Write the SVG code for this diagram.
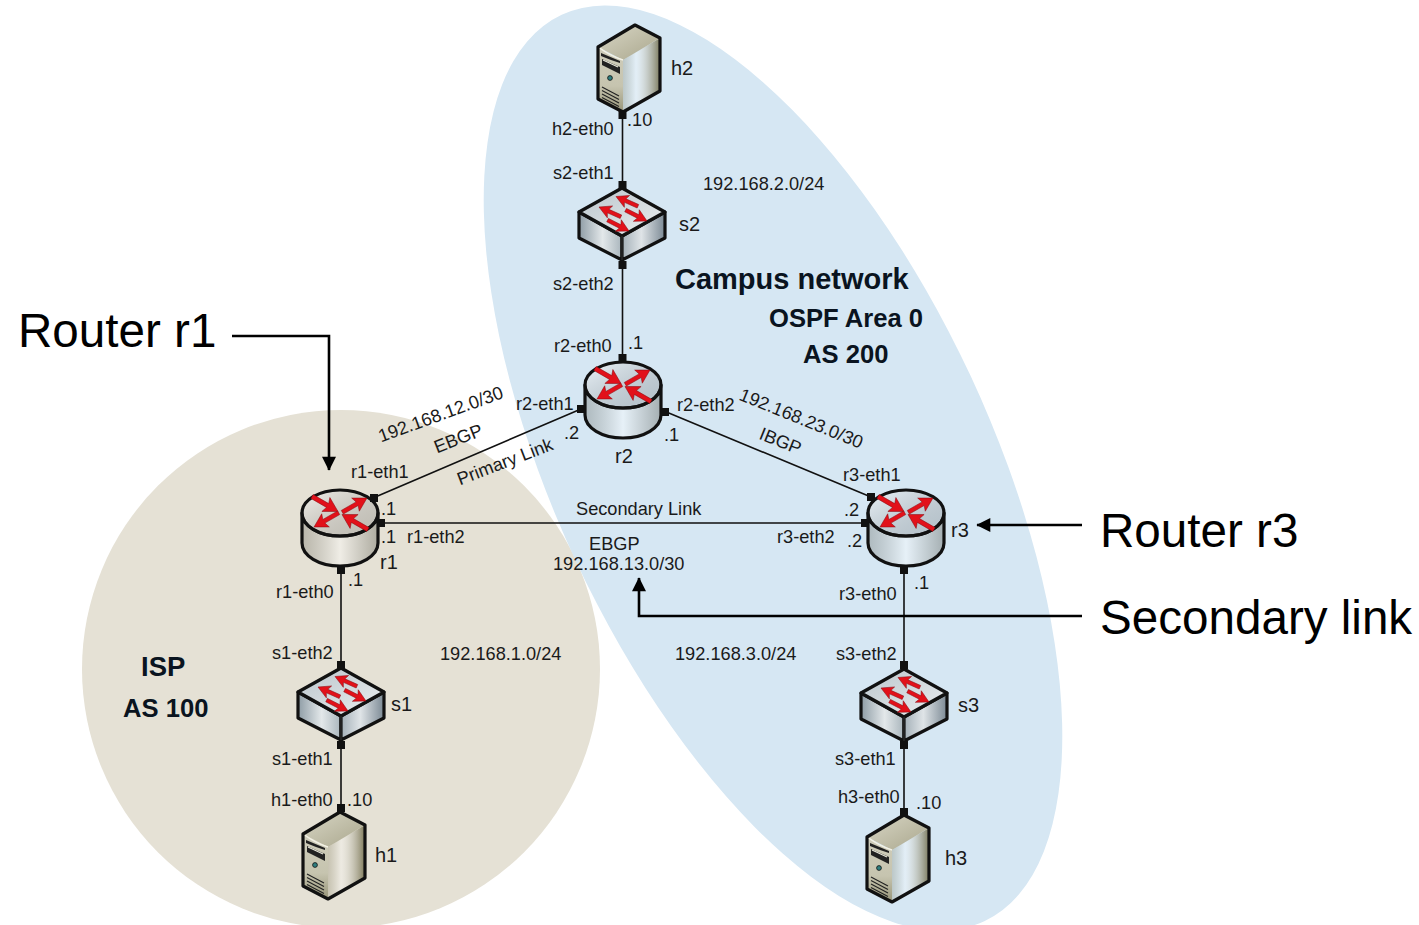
<svg xmlns="http://www.w3.org/2000/svg" width="1419" height="925" viewBox="0 0 1419 925">
<style>
text{font-family:"Liberation Sans",Arial,sans-serif;fill:#1a1a1a}
.l{font-size:18.2px}
.n{font-size:20px}
.b{font-size:25.6px;font-weight:bold;fill:#0a1420}
.c{font-size:47.6px;fill:#000}
.link{stroke:#111;stroke-width:1.6;fill:none}
.call{stroke:#000;stroke-width:2.6;fill:none}
.port{fill:#111}
.ol{stroke:#111;stroke-width:3.2;stroke-linejoin:round}
.red{fill:#e2111a;stroke:#8a0a12;stroke-width:.5}
</style>
<defs>
<linearGradient id="cyl" x1="0" x2="1" y1="0" y2="0"><stop offset="0" stop-color="#5a5a50" stop-opacity=".32"/><stop offset=".5" stop-color="#fff" stop-opacity=".4"/><stop offset="1" stop-color="#5a5a50" stop-opacity=".4"/></linearGradient>
<linearGradient id="top" x1="0" x2="1" y1="0" y2="1"><stop offset="0" stop-color="#fff" stop-opacity=".55"/><stop offset="1" stop-color="#555" stop-opacity=".25"/></linearGradient>
<linearGradient id="swT" x1="0" x2="1" y1="0" y2="1"><stop offset="0" stop-color="#b9c4cb"/><stop offset="1" stop-color="#eceff0"/></linearGradient>
<linearGradient id="swL" x1="0" x2="1" y1="0" y2="0"><stop offset="0" stop-color="#8e9ca5"/><stop offset=".55" stop-color="#e3e8ea"/><stop offset="1" stop-color="#a9b5bc"/></linearGradient>
<linearGradient id="swR" x1="0" x2="1" y1="0" y2="0"><stop offset="0" stop-color="#a4b0b8"/><stop offset=".45" stop-color="#dfe4e7"/><stop offset="1" stop-color="#7b8994"/></linearGradient>
<linearGradient id="svR" x1="0" x2="1" y1="0" y2="0"><stop offset="0" stop-color="#6e6a48" stop-opacity=".25"/><stop offset=".35" stop-color="#fff" stop-opacity=".3"/><stop offset="1" stop-color="#6b6642" stop-opacity=".85"/></linearGradient>
<linearGradient id="svT" x1="0" x2="1" y1="0" y2="1"><stop offset="0" stop-color="#d9d7c6"/><stop offset="1" stop-color="#a9a68c"/></linearGradient>
<linearGradient id="svF" x1="0" x2="0" y1="0" y2="1"><stop offset="0" stop-color="#cfcdbb"/><stop offset=".6" stop-color="#c6c4af"/><stop offset="1" stop-color="#989579"/></linearGradient>
<marker id="arr" viewBox="0 0 10 10" refX="9.5" refY="5" markerUnits="userSpaceOnUse" markerWidth="16" markerHeight="14" orient="auto"><path d="M0 0L10 5L0 10z" fill="#000"/></marker>
<path id="ra" class="red" d="M0 0L-14 -8L-12 -2.200L-30 -2.200L-30 2.200L-12 2.200L-14 8z"/>
<path id="sa" class="red" d="M0 0L12 -6.500L10 -1.900L24 -1.900L24 1.900L10 1.900L12 6.500z"/>
<g id="router">
<path class="ol" d="M-38 0V30A38 23 0 0 0 38 30V0A38 23 0 0 1 -38 0z" fill="url(#cyl)"/>
<ellipse class="ol" cx="0" cy="0" rx="38" ry="23" fill="url(#top)"/>
<use href="#ra" transform="translate(-2,-1.500) rotate(30)"/>
<use href="#ra" transform="translate(27,-15) rotate(-30) scale(.95)"/>
<use href="#ra" transform="translate(-26,14) rotate(150) scale(.95)"/>
<use href="#ra" transform="translate(2,1.500) rotate(210)"/>
</g>
<g id="switch">
<path class="ol" d="M-43 0L0 24V48L-43 26z" fill="url(#swL)"/>
<path class="ol" d="M43 0L0 24V48L43 26z" fill="url(#swR)"/>
<path class="ol" d="M0 -24L43 0L0 24L-43 0z" fill="url(#swT)"/>
<path d="M0 24V48" stroke="#333" stroke-width="1"/>
<use href="#sa" transform="translate(-6,-15.500) rotate(24)"/>
<use href="#sa" transform="translate(-23,-5) rotate(24)"/>
<use href="#sa" transform="translate(25,9) rotate(207)"/>
<use href="#sa" transform="translate(7,19) rotate(207)"/>
</g>
<g id="server">
<path d="M-12 35L25 13V66L-12 87z" fill="url(#svR)"/>
<path d="M0 0L25 13L-12 35L-37 22z" fill="url(#svT)"/>
<path d="M-37 22Q-25 31 -12 35V87L-37 74z" fill="url(#svF)"/>
<path d="M-36 22.500Q-25 31 -12 35" fill="none" stroke="#f3f1e4" stroke-width="1.500"/>
<path class="ol" fill="none" d="M0 0L25 13V66L-12 87L-37 74V22z"/>
<path d="M-34 28L-15 36V38L-24 35L-34 31zM-33 34L-15 42V49L-33 40z" fill="#222"/>
<path d="M-32 35L-17 42" stroke="#e8e7da" stroke-width="1.200"/>
<circle cx="-25" cy="53" r="2.400" fill="#2f7f80" stroke="#111" stroke-width=".8"/>
<path d="M-33 62L-16 71M-33 65.500L-16 74.500M-33 69L-16 78M-33 72.500L-16 81.500" stroke="#222" stroke-width="1.100"/>
</g>
</defs>

<ellipse cx="341" cy="669" rx="259" ry="259" fill="#e5e1d5"/>
<ellipse cx="773" cy="468" rx="500" ry="218" transform="rotate(65 773 468)" fill="#d6e7f3"/>

<g id="connectors">
<path class="link" d="M622.500 114V185M622.500 264V362M373 498L581 409M664 411L871 497M381 523H865M341 568V664M341 745V808M904 566V664M904 745V812"/>
<path class="call" marker-end="url(#arr)" d="M232 336H329V470"/>
<path class="call" marker-end="url(#arr)" d="M1082 525H977"/>
<path class="call" marker-end="url(#arr)" d="M1082 616H639V578"/>
</g>

<g id="h2"><use href="#server" x="635" y="25"/><text class="n" x="671" y="75">h2</text></g>
<g id="s2"><use href="#switch" x="622" y="212"/><text class="n" x="679" y="231">s2</text></g>
<g id="r2"><use href="#router" x="623" y="385"/><text class="n" x="615" y="463">r2</text></g>
<g id="r1"><use href="#router" x="340" y="513"/><text class="n" x="380" y="569">r1</text></g>
<g id="r3"><use href="#router" x="906" y="513"/><text class="n" x="951" y="537">r3</text></g>
<g id="s1"><use href="#switch" x="341" y="692"/><text class="n" x="391" y="711">s1</text></g>
<g id="s3"><use href="#switch" x="904" y="693"/><text class="n" x="958" y="712">s3</text></g>
<g id="h1"><use href="#server" x="340" y="812"/><text class="n" x="375" y="862">h1</text></g>
<g id="h3"><use href="#server" x="904" y="815"/><text class="n" x="945" y="865">h3</text></g>

<g class="port">
<rect x="618.500" y="111" width="8" height="8"/><rect x="618.500" y="181" width="8" height="8"/><rect x="618.500" y="261" width="8" height="8"/><rect x="618.500" y="354" width="8" height="8"/>
<rect x="577" y="405" width="8" height="8"/><rect x="661" y="408" width="8" height="8"/><rect x="370" y="494" width="8" height="8"/><rect x="377" y="519" width="8" height="8"/>
<rect x="867" y="493" width="8" height="8"/><rect x="861" y="519" width="8" height="8"/>
<rect x="337" y="566" width="8" height="8"/><rect x="337" y="661" width="8" height="8"/><rect x="337" y="741" width="8" height="8"/><rect x="337" y="804" width="8" height="8"/>
<rect x="900" y="566" width="8" height="8"/><rect x="900" y="661" width="8" height="8"/><rect x="900" y="741" width="8" height="8"/><rect x="900" y="808" width="8" height="8"/>
</g>

<g id="labels" transform="translate(0,.5)">
<text class="l" x="552" y="134">h2-eth0</text><text class="l" x="627" y="125">.10</text>
<text class="l" x="553" y="178">s2-eth1</text><text class="l" x="703" y="189">192.168.2.0/24</text>
<text class="l" x="553" y="289">s2-eth2</text><text class="l" x="554" y="351">r2-eth0</text><text class="l" x="628" y="348">.1</text>
<text class="l" x="516" y="409">r2-eth1</text><text class="l" x="677" y="410">r2-eth2</text>
<text class="l" x="564" y="438">.2</text><text class="l" x="664" y="440">.1</text>
<text class="l" transform="translate(381,442) rotate(-20)">192.168.12.0/30</text>
<text class="l" transform="translate(437,453) rotate(-21.500)">EBGP</text>
<text class="l" transform="translate(460,485) rotate(-21)">Primary Link</text>
<text class="l" transform="translate(738,399) rotate(22)">192.168.23.0/30</text>
<text class="l" transform="translate(758,438) rotate(22)">IBGP</text>
<text class="l" x="351" y="477">r1-eth1</text><text class="l" x="381" y="514">.1</text><text class="l" x="381" y="542">.1</text><text class="l" x="407" y="542">r1-eth2</text>
<text class="l" x="576" y="514">Secondary Link</text><text class="l" x="589" y="549">EBGP</text><text class="l" x="553" y="569">192.168.13.0/30</text>
<text class="l" x="843" y="480">r3-eth1</text><text class="l" x="844" y="515">.2</text><text class="l" x="777" y="542">r3-eth2</text><text class="l" x="847" y="546">.2</text>
<text class="l" x="276" y="597">r1-eth0</text><text class="l" x="348" y="585">.1</text><text class="l" x="839" y="599">r3-eth0</text><text class="l" x="914" y="588">.1</text>
<text class="l" x="272" y="658">s1-eth2</text><text class="l" x="440" y="659">192.168.1.0/24</text><text class="l" x="675" y="659">192.168.3.0/24</text><text class="l" x="836" y="659">s3-eth2</text>
<text class="l" x="272" y="764">s1-eth1</text><text class="l" x="835" y="764">s3-eth1</text>
<text class="l" x="271" y="805">h1-eth0</text><text class="l" x="347" y="805">.10</text><text class="l" x="838" y="802">h3-eth0</text><text class="l" x="916" y="808">.10</text>
<text class="b" x="675" y="288" style="font-size:29px">Campus network</text>
<text class="b" x="769" y="326">OSPF Area 0</text><text class="b" x="803" y="362">AS 200</text>
<text class="b" x="141" y="675" style="font-size:27.500px">ISP</text><text class="b" x="123" y="716">AS 100</text>
<text class="c" x="18" y="346">Router r1</text><text class="c" x="1100" y="546">Router r3</text><text class="c" x="1100" y="633">Secondary link</text>
</g>
</svg>
